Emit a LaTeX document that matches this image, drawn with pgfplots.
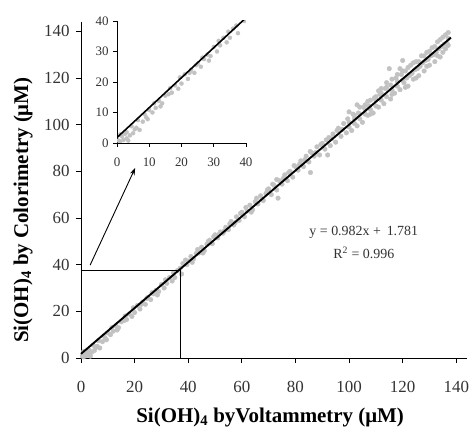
\documentclass[border=0pt]{standalone}
\usepackage{pgfplots}
\pgfplotsset{compat=1.18}
\usepackage{pgfplotstable}
\usepackage{fontspec}
\setmainfont{Liberation Serif}
\usetikzlibrary{arrows.meta}
\definecolor{pt}{HTML}{C2C2C2}

\pgfplotstableread{
x y
0.5 0.8
1 0.5
1 2.8
1.5 2.2
2 1.0
2.5 3.0
3 1.5
3 3.5
3.5 0.8
4 2.5
4.5 5.5
5 3.2
5.5 4.5
6 5.0
6.5 7.5
7 4.3
8 7.0
8.5 9.5
9 8.5
9.5 7.8
10 10.8
11 10.0
11.5 13.0
12 11.5
13 13.8
13.5 12.0
14 13.0
15 15.5
16 16.0
16.5 18.0
17 16.5
18 18.9
19 17.8
19.5 21.5
20 19.5
21 22.5
22 21.0
22.5 23.0
23 24.0
24 23.0
24.5 25.5
25 26.0
26 25.0
26.5 28.0
27 27.5
28 29.0
28.5 27.0
29 28.5
30 31.5
31 30.0
31.5 33.5
32 32.0
33 34.5
34 33.0
34.5 36.5
35 34.5
36 37.5
37 38.5
37.5 36.0
38 40.5
39 42.0
39.5 40.0
40 41.5
41 43.5
41.5 41.0
42 42.5
43 44.8
43.5 46.5
44 45.0
45 47.5
45.5 45.0
46 46.0
47 48.8
47.5 50.0
48 50.5
49 49.0
49.5 52.0
50 52.8
51 51.5
51.5 53.0
52 54.0
53 53.5
53.5 54.5
54 56.0
55 55.0
55.5 57.5
56 58.5
57 57.0
57.5 58.0
58 60.5
59 59.0
59.5 62.0
60 62.5
61 60.5
61.5 64.5
62 63.0
63 65.5
63.5 62.5
64 63.5
65 67.0
65.5 68.5
66 66.0
67 69.5
67.5 68.0
68 67.5
69 70.5
69.5 72.0
70 72.5
71 70.0
71.5 74.5
72 74.0
73 72.0
73 76.5
73.5 68.5
74 76.0
75 74.5
75.5 77.0
76 78.5
77 76.0
77.5 79.5
78 80.0
79 77.5
79.5 82.5
80 82.0
81 80.5
81.5 83.0
82 84.5
83 82.0
83.5 85.0
84 86.5
85 84.0
85.5 88.5
85.6 79.5
86 88.0
87 86.5
87.5 88.0
88 90.5
89 87.0
89.5 91.5
90 92.0
91 89.5
91.5 93.5
92 87.0
92.5 94.5
93 91.0
93.5 94.0
94 96.0
95 92.5
95.5 97.5
96 98.5
97 95.0
97.5 98.0
98 100.5
99 96.5
99.5 102.5
100 101.0
100 105.5
100 99.0
101 97.5
101.5 104.5
102 104.0
102 100.5
102 102.5
103 99.5
103 108.5
103.5 105.0
104 107.5
104 102.5
104 104.5
105 101.0
105.5 107.5
106 108.5
106 104.5
106 106.5
107 104.0
107 110.0
107.5 108.0
108 110.5
108 106.5
108 104.5
109 105.0
109.5 111.5
110 112.0
110 108.0
110 110.5
111 107.5
111 114.5
111.5 113.0
112 115.5
112 110.5
112 113.5
113 109.0
113.5 115.5
114 118.0
114 112.0
114 116.0
115 124.0
115.5 111.0
115.5 117.0
116 119.5
116 115.0
116 113.0
117 113.5
117.5 120.0
118 121.5
118 116.5
118 118.5
119 115.0
119 124.0
119.5 121.5
120 127.5
120 119.0
120 123.0
120.5 118.0
121 123.0
121 116.0
121.5 120.0
122 116.5
122 124.5
122.5 121.0
123 125.5
123.5 122.0
124 119.5
124 126.5
124.5 123.5
125 127.0
125 120.0
125.5 124.0
126 121.0
126 127.0
126.5 125.0
127 129.5
127.5 126.5
128 123.0
128 129.5
128.5 127.5
129 131.0
129 125.0
129.5 128.0
130 125.5
130 131.5
130.5 129.5
131 133.0
131.5 130.0
132 127.0
132 133.5
132.5 131.0
133 135.5
133 129.5
133.5 132.5
134 129.0
134 136.5
134.5 133.5
135 137.5
135 131.0
135.5 134.5
136 132.5
136 138.5
136.5 135.0
137 139.5
137 137.0
137 134.0
}\datatable

\begin{document}
\begin{tikzpicture}
\useasboundingbox (-81bp,-72bp) rectangle (388bp,358bp);
\begin{axis}[
  name=main,
  at={(0,0)}, anchor=south west,
  scale only axis,
  width=386bp, height=336bp,
  xmin=0, xmax=144, ymin=0, ymax=144,
  enlargelimits=false,
  axis x line*=bottom, axis y line*=left,
  axis line style={black, line width=0.8bp},
  xtick={0,20,...,140}, ytick={0,20,...,140},
  tick align=outside, major tick length=5bp,
  tick style={black, line width=0.8bp},
  /pgf/number format/assume math mode=true,
  ticklabel style={font=\fontsize{17}{17}\selectfont, text=black!80},
  xticklabel style={yshift=-15bp},
  yticklabel style={xshift=-3bp},
  xlabel={\textbf{Si(OH)\textsubscript{4} byVoltammetry (μM)}},
  ylabel={\textbf{Si(OH)\textsubscript{4} by Colorimetry (μM)}},
  label style={font=\fontsize{21}{21}\selectfont},
  xlabel style={at={(axis description cs:0.49,-0.178)}, anchor=center},
  ylabel style={at={(axis description cs:-0.15,0.44)}, anchor=center},
  clip=false,
  clip marker paths=true,
]
\addplot[only marks, mark=*, mark size=2.3bp, color=pt, mark options={draw=pt, fill=pt}] table {\datatable};
\addplot[black, line width=1.9bp] coordinates {(0,1.781) (138,137.3)};
\draw[black, line width=0.8bp] (axis cs:0,37.7) -- (axis cs:37,37.7) -- (axis cs:37,0);
\draw[black, line width=0.9bp, -{Stealth[length=7bp,width=5bp]}] (axis cs:3.4,39.8) -- (axis cs:20.2,81.4);
\node[font=\fontsize{14}{14}\selectfont, text=black!80, align=center] at (axis cs:105.5,54) {y = 0.982x +\, 1.781};
\node[font=\fontsize{14}{14}\selectfont, text=black!80, align=center] at (axis cs:105.5,45) {R\textsuperscript{2} = 0.996};
\end{axis}
\begin{axis}[
  at={(36bp,215bp)}, anchor=south west,
  scale only axis,
  width=129bp, height=122bp,
  xmin=0, xmax=40, ymin=0, ymax=40,
  enlargelimits=false,
  axis x line*=bottom, axis y line*=left,
  axis line style={black, line width=0.8bp},
  xtick={0,10,...,40}, ytick={0,10,...,40},
  tick align=outside, major tick length=4bp,
  tick style={black, line width=0.8bp},
  /pgf/number format/assume math mode=true,
  ticklabel style={font=\fontsize{13}{13}\selectfont, text=black!80},
  xticklabel style={yshift=-7bp},
  yticklabel style={xshift=-1bp},
  clip marker paths=true,
]
\addplot[only marks, mark=*, mark size=2bp, color=pt, mark options={draw=pt, fill=pt}] table {\datatable};
\addplot[black, line width=1.6bp] coordinates {(0,1.781) (40,41.06)};
\end{axis}
\end{tikzpicture}
\end{document}
